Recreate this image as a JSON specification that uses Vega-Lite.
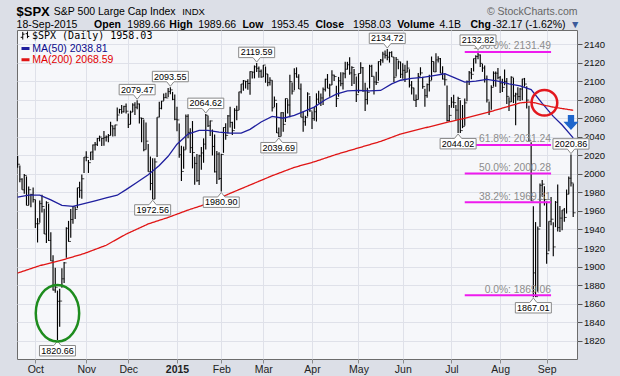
{
  "$schema": "https://vega.github.io/schema/vega-lite/v6.json",
  "width": 560,
  "height": 329,
  "autosize": {"type": "none"},
  "padding": {"left": 17, "top": 30, "right": 43, "bottom": 17},
  "background": "#dcdfe7",
  "config": {
    "view": {"fill": "#f6f7fa", "stroke": "#6c6c6c", "strokeWidth": 1},
    "font": "Liberation Sans",
    "axis": {"labelFont": "Liberation Sans", "titleFont": "Liberation Sans"}
  },
  "resolve": {"axis": {"x": "independent", "y": "independent"}},
  "datasets": {
    "px": [
      {"d":"2014-09-19","h":2019.3,"l":2006.6,"c":2010.4},
      {"d":"2014-09-22","h":2009.1,"l":1991.0,"c":1994.3},
      {"d":"2014-09-23","h":1995.4,"l":1982.8,"c":1982.8},
      {"d":"2014-09-24","h":1999.8,"l":1978.6,"c":1998.3},
      {"d":"2014-09-25","h":1997.3,"l":1966.0,"c":1966.0},
      {"d":"2014-09-26","h":1986.4,"l":1966.2,"c":1982.9},
      {"d":"2014-09-29","h":1978.6,"l":1964.0,"c":1977.8},
      {"d":"2014-09-30","h":1985.2,"l":1969.0,"c":1972.3},
      {"d":"2014-10-01","h":1972.0,"l":1941.7,"c":1946.2},
      {"d":"2014-10-02","h":1952.3,"l":1926.0,"c":1946.2},
      {"d":"2014-10-03","h":1971.2,"l":1947.2,"c":1967.9},
      {"d":"2014-10-06","h":1977.4,"l":1958.4,"c":1964.8},
      {"d":"2014-10-07","h":1962.4,"l":1935.1,"c":1935.1},
      {"d":"2014-10-08","h":1970.4,"l":1925.3,"c":1968.9},
      {"d":"2014-10-09","h":1967.7,"l":1927.6,"c":1928.2},
      {"d":"2014-10-10","h":1937.0,"l":1906.1,"c":1906.1},
      {"d":"2014-10-13","h":1912.1,"l":1874.1,"c":1874.7},
      {"d":"2014-10-14","h":1898.7,"l":1871.8,"c":1877.7},
      {"d":"2014-10-15","h":1874.1,"l":1820.66,"c":1862.5},
      {"d":"2014-10-16","h":1876.0,"l":1835.0,"c":1862.8},
      {"d":"2014-10-17","h":1898.1,"l":1877.1,"c":1886.8},
      {"d":"2014-10-20","h":1905.0,"l":1882.3,"c":1904.0},
      {"d":"2014-10-21","h":1942.5,"l":1909.4,"c":1941.3},
      {"d":"2014-10-22","h":1949.3,"l":1926.8,"c":1927.1},
      {"d":"2014-10-23","h":1962.0,"l":1931.1,"c":1950.8},
      {"d":"2014-10-24","h":1965.3,"l":1946.3,"c":1964.6},
      {"d":"2014-10-27","h":1964.6,"l":1951.4,"c":1961.6},
      {"d":"2014-10-28","h":1985.1,"l":1962.9,"c":1985.1},
      {"d":"2014-10-29","h":1991.4,"l":1974.3,"c":1982.3},
      {"d":"2014-10-30","h":1999.4,"l":1973.3,"c":1994.7},
      {"d":"2014-10-31","h":2018.2,"l":2001.0,"c":2018.1},
      {"d":"2014-11-03","h":2024.5,"l":2013.7,"c":2017.8},
      {"d":"2014-11-04","h":2015.0,"l":2001.0,"c":2012.1},
      {"d":"2014-11-05","h":2023.8,"l":2014.8,"c":2023.6},
      {"d":"2014-11-06","h":2031.6,"l":2015.1,"c":2031.2},
      {"d":"2014-11-07","h":2034.3,"l":2025.1,"c":2031.9},
      {"d":"2014-11-10","h":2038.7,"l":2030.2,"c":2038.3},
      {"d":"2014-11-11","h":2041.3,"l":2035.0,"c":2039.7},
      {"d":"2014-11-12","h":2038.8,"l":2030.2,"c":2038.3},
      {"d":"2014-11-13","h":2046.2,"l":2030.4,"c":2039.3},
      {"d":"2014-11-14","h":2041.4,"l":2035.0,"c":2039.8},
      {"d":"2014-11-17","h":2043.1,"l":2034.0,"c":2041.3},
      {"d":"2014-11-18","h":2056.1,"l":2041.3,"c":2051.8},
      {"d":"2014-11-19","h":2052.1,"l":2040.4,"c":2048.7},
      {"d":"2014-11-20","h":2053.0,"l":2040.5,"c":2052.8},
      {"d":"2014-11-21","h":2071.5,"l":2056.8,"c":2063.5},
      {"d":"2014-11-24","h":2070.2,"l":2065.1,"c":2069.4},
      {"d":"2014-11-25","h":2074.2,"l":2064.8,"c":2067.0},
      {"d":"2014-11-26","h":2073.4,"l":2066.3,"c":2072.8},
      {"d":"2014-11-28","h":2075.8,"l":2065.1,"c":2067.6},
      {"d":"2014-12-01","h":2065.1,"l":2049.6,"c":2053.4},
      {"d":"2014-12-02","h":2068.2,"l":2053.4,"c":2066.6},
      {"d":"2014-12-03","h":2076.3,"l":2066.7,"c":2074.3},
      {"d":"2014-12-04","h":2077.3,"l":2063.5,"c":2071.9},
      {"d":"2014-12-05","h":2079.47,"l":2069.8,"c":2075.4},
      {"d":"2014-12-08","h":2075.8,"l":2054.3,"c":2060.3},
      {"d":"2014-12-09","h":2060.6,"l":2034.2,"c":2059.8},
      {"d":"2014-12-10","h":2058.6,"l":2024.3,"c":2026.1},
      {"d":"2014-12-11","h":2055.5,"l":2026.4,"c":2035.3},
      {"d":"2014-12-12","h":2032.2,"l":2002.3,"c":2002.3},
      {"d":"2014-12-15","h":2018.7,"l":1982.3,"c":1989.6},
      {"d":"2014-12-16","h":2016.9,"l":1972.56,"c":1972.7},
      {"d":"2014-12-17","h":2016.8,"l":1973.0,"c":2012.9},
      {"d":"2014-12-18","h":2061.2,"l":2018.1,"c":2061.2},
      {"d":"2014-12-19","h":2077.9,"l":2061.0,"c":2070.7},
      {"d":"2014-12-22","h":2078.8,"l":2069.6,"c":2078.5},
      {"d":"2014-12-23","h":2086.7,"l":2079.0,"c":2082.2},
      {"d":"2014-12-24","h":2087.6,"l":2081.9,"c":2081.9},
      {"d":"2014-12-26","h":2092.7,"l":2083.0,"c":2088.8},
      {"d":"2014-12-29","h":2093.55,"l":2085.8,"c":2090.6},
      {"d":"2014-12-30","h":2088.5,"l":2079.5,"c":2080.4},
      {"d":"2014-12-31","h":2085.6,"l":2057.9,"c":2058.9},
      {"d":"2015-01-02","h":2072.4,"l":2046.0,"c":2058.2},
      {"d":"2015-01-05","h":2054.4,"l":2017.3,"c":2020.6},
      {"d":"2015-01-06","h":2030.3,"l":1992.4,"c":2002.6},
      {"d":"2015-01-07","h":2029.6,"l":2005.6,"c":2025.9},
      {"d":"2015-01-08","h":2064.1,"l":2026.4,"c":2062.1},
      {"d":"2015-01-09","h":2064.4,"l":2038.3,"c":2044.8},
      {"d":"2015-01-12","h":2049.3,"l":2022.6,"c":2028.3},
      {"d":"2015-01-13","h":2057.0,"l":2005.9,"c":2023.0},
      {"d":"2015-01-14","h":2018.4,"l":1988.4,"c":2011.3},
      {"d":"2015-01-15","h":2021.4,"l":1991.5,"c":1992.7},
      {"d":"2015-01-16","h":2020.5,"l":1988.1,"c":2019.4},
      {"d":"2015-01-20","h":2028.9,"l":2004.5,"c":2022.6},
      {"d":"2015-01-21","h":2038.3,"l":2012.0,"c":2032.1},
      {"d":"2015-01-22","h":2064.62,"l":2026.4,"c":2063.2},
      {"d":"2015-01-23","h":2062.6,"l":2050.5,"c":2051.8},
      {"d":"2015-01-26","h":2057.6,"l":2040.9,"c":2057.1},
      {"d":"2015-01-27","h":2047.9,"l":2019.9,"c":2029.6},
      {"d":"2015-01-28","h":2042.5,"l":2001.5,"c":2002.2},
      {"d":"2015-01-29","h":2024.6,"l":1989.2,"c":2021.3},
      {"d":"2015-01-30","h":2023.3,"l":1993.4,"c":1995.0},
      {"d":"2015-02-02","h":2021.7,"l":1980.9,"c":2020.9},
      {"d":"2015-02-03","h":2050.3,"l":2022.7,"c":2050.0},
      {"d":"2015-02-04","h":2054.7,"l":2036.7,"c":2041.5},
      {"d":"2015-02-05","h":2063.6,"l":2043.5,"c":2062.5},
      {"d":"2015-02-06","h":2072.4,"l":2049.9,"c":2055.5},
      {"d":"2015-02-09","h":2056.2,"l":2041.9,"c":2046.7},
      {"d":"2015-02-10","h":2070.9,"l":2048.6,"c":2068.6},
      {"d":"2015-02-11","h":2073.5,"l":2057.9,"c":2068.5},
      {"d":"2015-02-12","h":2088.5,"l":2069.0,"c":2088.5},
      {"d":"2015-02-13","h":2097.0,"l":2086.7,"c":2097.0},
      {"d":"2015-02-17","h":2101.3,"l":2089.8,"c":2100.3},
      {"d":"2015-02-18","h":2100.2,"l":2092.2,"c":2099.7},
      {"d":"2015-02-19","h":2102.1,"l":2090.8,"c":2097.5},
      {"d":"2015-02-20","h":2110.6,"l":2085.4,"c":2110.3},
      {"d":"2015-02-23","h":2110.1,"l":2103.0,"c":2109.7},
      {"d":"2015-02-24","h":2117.0,"l":2103.0,"c":2115.5},
      {"d":"2015-02-25","h":2119.59,"l":2109.9,"c":2113.9},
      {"d":"2015-02-26","h":2115.8,"l":2103.8,"c":2110.7},
      {"d":"2015-02-27","h":2112.7,"l":2103.8,"c":2104.5},
      {"d":"2015-03-02","h":2117.5,"l":2104.5,"c":2117.4},
      {"d":"2015-03-03","h":2115.8,"l":2098.3,"c":2107.8},
      {"d":"2015-03-04","h":2107.7,"l":2094.5,"c":2098.5},
      {"d":"2015-03-05","h":2104.3,"l":2095.2,"c":2101.0},
      {"d":"2015-03-06","h":2100.9,"l":2067.3,"c":2071.3},
      {"d":"2015-03-09","h":2083.5,"l":2072.2,"c":2079.4},
      {"d":"2015-03-10","h":2076.5,"l":2044.2,"c":2044.2},
      {"d":"2015-03-11","h":2050.1,"l":2039.69,"c":2040.2},
      {"d":"2015-03-12","h":2066.4,"l":2040.6,"c":2066.0},
      {"d":"2015-03-13","h":2066.6,"l":2045.5,"c":2053.4},
      {"d":"2015-03-16","h":2081.4,"l":2055.9,"c":2081.2},
      {"d":"2015-03-17","h":2080.6,"l":2065.1,"c":2074.3},
      {"d":"2015-03-18","h":2106.9,"l":2061.2,"c":2099.5},
      {"d":"2015-03-19","h":2098.7,"l":2085.6,"c":2089.3},
      {"d":"2015-03-20","h":2113.9,"l":2090.3,"c":2108.1},
      {"d":"2015-03-23","h":2114.9,"l":2103.8,"c":2104.4},
      {"d":"2015-03-24","h":2107.6,"l":2091.5,"c":2091.5},
      {"d":"2015-03-25","h":2097.4,"l":2061.1,"c":2061.1},
      {"d":"2015-03-26","h":2067.2,"l":2045.5,"c":2056.2},
      {"d":"2015-03-27","h":2062.8,"l":2052.0,"c":2061.0},
      {"d":"2015-03-30","h":2088.0,"l":2062.0,"c":2086.2},
      {"d":"2015-03-31","h":2084.1,"l":2067.0,"c":2067.9},
      {"d":"2015-04-01","h":2067.2,"l":2048.4,"c":2059.7},
      {"d":"2015-04-02","h":2072.2,"l":2057.3,"c":2067.0},
      {"d":"2015-04-06","h":2086.9,"l":2056.5,"c":2080.6},
      {"d":"2015-04-07","h":2089.8,"l":2076.1,"c":2076.3},
      {"d":"2015-04-08","h":2086.7,"l":2073.3,"c":2081.9},
      {"d":"2015-04-09","h":2093.3,"l":2074.3,"c":2091.2},
      {"d":"2015-04-10","h":2102.6,"l":2088.9,"c":2102.1},
      {"d":"2015-04-13","h":2107.7,"l":2092.3,"c":2092.4},
      {"d":"2015-04-14","h":2097.3,"l":2083.2,"c":2095.8},
      {"d":"2015-04-15","h":2111.9,"l":2096.0,"c":2106.6},
      {"d":"2015-04-16","h":2107.0,"l":2100.1,"c":2105.0},
      {"d":"2015-04-17","h":2095.1,"l":2072.1,"c":2081.2},
      {"d":"2015-04-20","h":2104.6,"l":2083.2,"c":2100.4},
      {"d":"2015-04-21","h":2109.6,"l":2094.4,"c":2097.3},
      {"d":"2015-04-22","h":2109.6,"l":2091.1,"c":2108.0},
      {"d":"2015-04-23","h":2120.9,"l":2103.2,"c":2112.9},
      {"d":"2015-04-24","h":2120.9,"l":2112.6,"c":2117.7},
      {"d":"2015-04-27","h":2125.9,"l":2107.0,"c":2108.9},
      {"d":"2015-04-28","h":2116.0,"l":2094.9,"c":2114.8},
      {"d":"2015-04-29","h":2113.2,"l":2097.0,"c":2106.9},
      {"d":"2015-04-30","h":2105.0,"l":2077.6,"c":2085.5},
      {"d":"2015-05-01","h":2108.4,"l":2087.3,"c":2108.3},
      {"d":"2015-05-04","h":2120.5,"l":2108.4,"c":2114.5},
      {"d":"2015-05-05","h":2115.2,"l":2088.5,"c":2089.5},
      {"d":"2015-05-06","h":2098.3,"l":2067.9,"c":2080.2},
      {"d":"2015-05-07","h":2092.9,"l":2074.9,"c":2088.0},
      {"d":"2015-05-08","h":2117.7,"l":2092.1,"c":2116.1},
      {"d":"2015-05-11","h":2117.7,"l":2104.6,"c":2105.3},
      {"d":"2015-05-12","h":2105.1,"l":2085.6,"c":2099.1},
      {"d":"2015-05-13","h":2110.2,"l":2096.0,"c":2098.5},
      {"d":"2015-05-14","h":2121.5,"l":2100.4,"c":2121.1},
      {"d":"2015-05-15","h":2123.9,"l":2116.8,"c":2122.7},
      {"d":"2015-05-18","h":2131.8,"l":2120.0,"c":2129.2},
      {"d":"2015-05-19","h":2133.0,"l":2124.5,"c":2127.8},
      {"d":"2015-05-20","h":2134.72,"l":2122.6,"c":2125.9},
      {"d":"2015-05-21","h":2131.8,"l":2120.0,"c":2130.8},
      {"d":"2015-05-22","h":2132.2,"l":2126.1,"c":2126.1},
      {"d":"2015-05-26","h":2126.2,"l":2099.2,"c":2104.2},
      {"d":"2015-05-27","h":2126.2,"l":2105.1,"c":2123.5},
      {"d":"2015-05-28","h":2122.3,"l":2112.8,"c":2120.8},
      {"d":"2015-05-29","h":2121.0,"l":2103.4,"c":2107.4},
      {"d":"2015-06-01","h":2119.2,"l":2102.5,"c":2111.7},
      {"d":"2015-06-02","h":2117.6,"l":2099.1,"c":2109.6},
      {"d":"2015-06-03","h":2121.9,"l":2109.6,"c":2114.1},
      {"d":"2015-06-04","h":2112.9,"l":2093.2,"c":2095.8},
      {"d":"2015-06-05","h":2100.3,"l":2085.7,"c":2092.8},
      {"d":"2015-06-08","h":2093.0,"l":2079.1,"c":2079.3},
      {"d":"2015-06-09","h":2085.7,"l":2072.1,"c":2080.2},
      {"d":"2015-06-10","h":2108.8,"l":2080.2,"c":2105.2},
      {"d":"2015-06-11","h":2115.0,"l":2106.1,"c":2108.9},
      {"d":"2015-06-12","h":2104.9,"l":2091.9,"c":2094.1},
      {"d":"2015-06-15","h":2091.9,"l":2072.5,"c":2084.4},
      {"d":"2015-06-16","h":2097.4,"l":2082.1,"c":2096.3},
      {"d":"2015-06-17","h":2106.8,"l":2088.9,"c":2100.4},
      {"d":"2015-06-18","h":2126.6,"l":2101.0,"c":2121.2},
      {"d":"2015-06-19","h":2121.3,"l":2109.8,"c":2110.0},
      {"d":"2015-06-22","h":2130.0,"l":2110.0,"c":2122.9},
      {"d":"2015-06-23","h":2127.0,"l":2120.1,"c":2124.2},
      {"d":"2015-06-24","h":2125.1,"l":2108.6,"c":2108.6},
      {"d":"2015-06-25","h":2116.0,"l":2101.8,"c":2102.3},
      {"d":"2015-06-26","h":2108.6,"l":2095.4,"c":2101.5},
      {"d":"2015-06-29","h":2095.2,"l":2056.6,"c":2057.6},
      {"d":"2015-06-30","h":2074.3,"l":2056.3,"c":2063.1},
      {"d":"2015-07-01","h":2082.8,"l":2071.3,"c":2077.4},
      {"d":"2015-07-02","h":2085.4,"l":2071.0,"c":2076.8},
      {"d":"2015-07-06","h":2074.2,"l":2058.4,"c":2068.8},
      {"d":"2015-07-07","h":2083.3,"l":2044.02,"c":2081.3},
      {"d":"2015-07-08","h":2079.5,"l":2044.2,"c":2046.7},
      {"d":"2015-07-09","h":2074.3,"l":2049.3,"c":2051.3},
      {"d":"2015-07-10","h":2081.3,"l":2052.0,"c":2076.6},
      {"d":"2015-07-13","h":2100.7,"l":2078.3,"c":2099.6},
      {"d":"2015-07-14","h":2111.0,"l":2095.9,"c":2109.0},
      {"d":"2015-07-15","h":2114.2,"l":2102.1,"c":2107.4},
      {"d":"2015-07-16","h":2124.4,"l":2110.3,"c":2124.3},
      {"d":"2015-07-17","h":2128.0,"l":2119.1,"c":2126.6},
      {"d":"2015-07-20","h":2132.82,"l":2123.7,"c":2128.3},
      {"d":"2015-07-21","h":2128.9,"l":2115.4,"c":2119.2},
      {"d":"2015-07-22","h":2118.5,"l":2110.0,"c":2114.2},
      {"d":"2015-07-23","h":2116.9,"l":2098.6,"c":2102.2},
      {"d":"2015-07-24","h":2106.0,"l":2077.1,"c":2079.7},
      {"d":"2015-07-27","h":2078.0,"l":2063.5,"c":2067.6},
      {"d":"2015-07-28","h":2095.6,"l":2069.1,"c":2093.3},
      {"d":"2015-07-29","h":2110.6,"l":2094.1,"c":2108.6},
      {"d":"2015-07-30","h":2110.5,"l":2094.1,"c":2108.6},
      {"d":"2015-07-31","h":2114.2,"l":2102.1,"c":2103.8},
      {"d":"2015-08-03","h":2105.7,"l":2087.3,"c":2098.0},
      {"d":"2015-08-04","h":2102.5,"l":2088.3,"c":2093.3},
      {"d":"2015-08-05","h":2112.7,"l":2095.5,"c":2099.8},
      {"d":"2015-08-06","h":2103.3,"l":2075.5,"c":2083.6},
      {"d":"2015-08-07","h":2082.6,"l":2067.9,"c":2077.6},
      {"d":"2015-08-10","h":2105.4,"l":2077.6,"c":2104.2},
      {"d":"2015-08-11","h":2103.5,"l":2076.4,"c":2084.1},
      {"d":"2015-08-12","h":2087.6,"l":2052.4,"c":2086.1},
      {"d":"2015-08-13","h":2093.4,"l":2079.1,"c":2083.4},
      {"d":"2015-08-14","h":2092.5,"l":2078.5,"c":2091.5},
      {"d":"2015-08-17","h":2102.7,"l":2079.3,"c":2102.4},
      {"d":"2015-08-18","h":2103.5,"l":2094.1,"c":2096.9},
      {"d":"2015-08-19","h":2094.4,"l":2070.5,"c":2079.6},
      {"d":"2015-08-20","h":2073.5,"l":2034.9,"c":2035.7},
      {"d":"2015-08-21","h":2034.1,"l":1970.9,"c":1970.9},
      {"d":"2015-08-24","h":1965.2,"l":1867.01,"c":1893.2},
      {"d":"2015-08-25","h":1948.0,"l":1867.1,"c":1867.6},
      {"d":"2015-08-26","h":1943.1,"l":1872.8,"c":1940.5},
      {"d":"2015-08-27","h":1989.6,"l":1942.8,"c":1987.7},
      {"d":"2015-08-28","h":1993.5,"l":1975.2,"c":1988.9},
      {"d":"2015-08-31","h":1986.7,"l":1966.0,"c":1972.2},
      {"d":"2015-09-01","h":1970.1,"l":1903.1,"c":1913.9},
      {"d":"2015-09-02","h":1948.9,"l":1916.5,"c":1948.9},
      {"d":"2015-09-03","h":1975.0,"l":1944.7,"c":1951.1},
      {"d":"2015-09-04","h":1947.8,"l":1911.2,"c":1921.2},
      {"d":"2015-09-08","h":1970.7,"l":1942.5,"c":1969.4},
      {"d":"2015-09-09","h":1988.6,"l":1937.9,"c":1942.0},
      {"d":"2015-09-10","h":1965.3,"l":1937.2,"c":1952.3},
      {"d":"2015-09-11","h":1961.1,"l":1939.2,"c":1961.1},
      {"d":"2015-09-14","h":1963.1,"l":1948.3,"c":1953.0},
      {"d":"2015-09-15","h":1983.1,"l":1957.2,"c":1978.1},
      {"d":"2015-09-16","h":1997.3,"l":1977.9,"c":1995.3},
      {"d":"2015-09-17","h":2020.86,"l":1986.3,"c":1990.2},
      {"d":"2015-09-18","h":1989.66,"l":1953.45,"c":1958.03}
    ],
    "ma": [
      {"s":"MA(50) 2038.81","d":"2014-09-19","v":1975},
      {"s":"MA(50) 2038.81","d":"2014-09-26","v":1977},
      {"s":"MA(50) 2038.81","d":"2014-10-03","v":1977},
      {"s":"MA(50) 2038.81","d":"2014-10-10","v":1972},
      {"s":"MA(50) 2038.81","d":"2014-10-17","v":1966},
      {"s":"MA(50) 2038.81","d":"2014-10-24","v":1965},
      {"s":"MA(50) 2038.81","d":"2014-10-31","v":1968},
      {"s":"MA(50) 2038.81","d":"2014-11-07","v":1971},
      {"s":"MA(50) 2038.81","d":"2014-11-14","v":1974},
      {"s":"MA(50) 2038.81","d":"2014-11-21","v":1977},
      {"s":"MA(50) 2038.81","d":"2014-11-28","v":1983},
      {"s":"MA(50) 2038.81","d":"2014-12-05","v":1991},
      {"s":"MA(50) 2038.81","d":"2014-12-12","v":1999},
      {"s":"MA(50) 2038.81","d":"2014-12-19","v":2009},
      {"s":"MA(50) 2038.81","d":"2014-12-26","v":2019},
      {"s":"MA(50) 2038.81","d":"2015-01-02","v":2032},
      {"s":"MA(50) 2038.81","d":"2015-01-09","v":2043},
      {"s":"MA(50) 2038.81","d":"2015-01-16","v":2047},
      {"s":"MA(50) 2038.81","d":"2015-01-23","v":2047},
      {"s":"MA(50) 2038.81","d":"2015-01-30","v":2045},
      {"s":"MA(50) 2038.81","d":"2015-02-06","v":2044},
      {"s":"MA(50) 2038.81","d":"2015-02-13","v":2044},
      {"s":"MA(50) 2038.81","d":"2015-02-20","v":2048},
      {"s":"MA(50) 2038.81","d":"2015-02-27","v":2056},
      {"s":"MA(50) 2038.81","d":"2015-03-06","v":2062},
      {"s":"MA(50) 2038.81","d":"2015-03-13","v":2060},
      {"s":"MA(50) 2038.81","d":"2015-03-20","v":2063},
      {"s":"MA(50) 2038.81","d":"2015-03-27","v":2068},
      {"s":"MA(50) 2038.81","d":"2015-04-02","v":2072},
      {"s":"MA(50) 2038.81","d":"2015-04-10","v":2080},
      {"s":"MA(50) 2038.81","d":"2015-04-17","v":2086},
      {"s":"MA(50) 2038.81","d":"2015-04-24","v":2089.5},
      {"s":"MA(50) 2038.81","d":"2015-05-01","v":2090},
      {"s":"MA(50) 2038.81","d":"2015-05-08","v":2089.5},
      {"s":"MA(50) 2038.81","d":"2015-05-15","v":2090},
      {"s":"MA(50) 2038.81","d":"2015-05-22","v":2097},
      {"s":"MA(50) 2038.81","d":"2015-05-29","v":2101},
      {"s":"MA(50) 2038.81","d":"2015-06-05","v":2103},
      {"s":"MA(50) 2038.81","d":"2015-06-12","v":2104},
      {"s":"MA(50) 2038.81","d":"2015-06-19","v":2106},
      {"s":"MA(50) 2038.81","d":"2015-06-26","v":2108},
      {"s":"MA(50) 2038.81","d":"2015-07-02","v":2104},
      {"s":"MA(50) 2038.81","d":"2015-07-10","v":2099},
      {"s":"MA(50) 2038.81","d":"2015-07-17","v":2100},
      {"s":"MA(50) 2038.81","d":"2015-07-24","v":2102},
      {"s":"MA(50) 2038.81","d":"2015-07-31","v":2100},
      {"s":"MA(50) 2038.81","d":"2015-08-07","v":2097},
      {"s":"MA(50) 2038.81","d":"2015-08-14","v":2095},
      {"s":"MA(50) 2038.81","d":"2015-08-21","v":2091},
      {"s":"MA(50) 2038.81","d":"2015-08-28","v":2076},
      {"s":"MA(50) 2038.81","d":"2015-09-04","v":2062},
      {"s":"MA(50) 2038.81","d":"2015-09-11","v":2052.7},
      {"s":"MA(50) 2038.81","d":"2015-09-18","v":2038.81},
      {"s":"MA(200) 2068.59","d":"2014-09-19","v":1893},
      {"s":"MA(200) 2068.59","d":"2014-10-03","v":1901},
      {"s":"MA(200) 2068.59","d":"2014-10-17","v":1907},
      {"s":"MA(200) 2068.59","d":"2014-10-31","v":1914},
      {"s":"MA(200) 2068.59","d":"2014-11-14","v":1923},
      {"s":"MA(200) 2068.59","d":"2014-11-28","v":1935},
      {"s":"MA(200) 2068.59","d":"2014-12-12","v":1946},
      {"s":"MA(200) 2068.59","d":"2014-12-26","v":1953},
      {"s":"MA(200) 2068.59","d":"2015-01-09","v":1961},
      {"s":"MA(200) 2068.59","d":"2015-01-23","v":1968},
      {"s":"MA(200) 2068.59","d":"2015-02-06","v":1979},
      {"s":"MA(200) 2068.59","d":"2015-02-20","v":1988},
      {"s":"MA(200) 2068.59","d":"2015-03-06","v":1998},
      {"s":"MA(200) 2068.59","d":"2015-03-20","v":2007},
      {"s":"MA(200) 2068.59","d":"2015-04-02","v":2013},
      {"s":"MA(200) 2068.59","d":"2015-04-17","v":2021},
      {"s":"MA(200) 2068.59","d":"2015-05-01","v":2028},
      {"s":"MA(200) 2068.59","d":"2015-05-15","v":2035},
      {"s":"MA(200) 2068.59","d":"2015-05-29","v":2043},
      {"s":"MA(200) 2068.59","d":"2015-06-12","v":2049},
      {"s":"MA(200) 2068.59","d":"2015-06-26","v":2055},
      {"s":"MA(200) 2068.59","d":"2015-07-10","v":2060},
      {"s":"MA(200) 2068.59","d":"2015-07-24","v":2066},
      {"s":"MA(200) 2068.59","d":"2015-08-07","v":2073},
      {"s":"MA(200) 2068.59","d":"2015-08-14","v":2076.5},
      {"s":"MA(200) 2068.59","d":"2015-08-20","v":2077.5},
      {"s":"MA(200) 2068.59","d":"2015-08-25","v":2076.5},
      {"s":"MA(200) 2068.59","d":"2015-08-28","v":2074.5},
      {"s":"MA(200) 2068.59","d":"2015-09-04","v":2072},
      {"s":"MA(200) 2068.59","d":"2015-09-11","v":2070.5},
      {"s":"MA(200) 2068.59","d":"2015-09-18","v":2068.59}
    ],
    "lab": [
      {"d":"2014-12-05","v":2079.47,"k":"high"},
      {"d":"2014-12-29","v":2093.55,"k":"high"},
      {"d":"2015-01-22","v":2064.62,"k":"high"},
      {"d":"2015-02-25","v":2119.59,"k":"high"},
      {"d":"2015-05-20","v":2134.72,"k":"high"},
      {"d":"2015-07-20","v":2132.82,"k":"high"},
      {"d":"2015-09-17","v":2020.86,"k":"high"},
      {"d":"2014-10-15","v":1820.66,"k":"low"},
      {"d":"2014-12-16","v":1972.56,"k":"low"},
      {"d":"2015-02-02","v":1980.90,"k":"low"},
      {"d":"2015-03-11","v":2039.69,"k":"low"},
      {"d":"2015-07-07","v":2044.02,"k":"low"},
      {"d":"2015-08-24","v":1867.01,"k":"low"}
    ],
    "fib": [
      {"d":"2015-07-10","d2":"2015-09-03","v":2131.49,"t":"100.0%: 2131.49"},
      {"d":"2015-07-10","d2":"2015-09-03","v":2031.24,"t":"61.8%: 2031.24"},
      {"d":"2015-07-10","d2":"2015-09-03","v":2000.28,"t":"50.0%: 2000.28"},
      {"d":"2015-07-10","d2":"2015-09-03","v":1969.31,"t":"38.2%: 1969.31"},
      {"d":"2015-07-10","d2":"2015-09-03","v":1869.06,"t":"0.0%: 1869.06"}
    ],
    "ann": [
      {"k":"circle","d":"2015-08-31","v":2076.7},
      {"k":"ellipse","d":"2014-10-15","v":1849.6},
      {"k":"arrow","d":"2015-09-17","v":2055.4}
    ]
  },
  "layer": [
    {
      "data": {"name": "px"},
      "mark": {"type": "rule", "strokeWidth": 1.15},
      "encoding": {
        "x": {
          "field": "d", "type": "ordinal",
          "scale": {"type": "point", "padding": 1.773, "align": 0.141},
          "axis": {
            "orient": "bottom",
            "values": ["2014-10-01","2014-11-03","2014-12-01","2015-01-02","2015-02-02","2015-03-02","2015-04-01","2015-05-01","2015-06-01","2015-07-01","2015-08-03","2015-09-01"],
            "labelExpr": "['','2015','Feb','Mar','Apr','May','Jun','Jul','Aug','Sep','Oct','Nov','Dec'][toNumber(slice(datum.value,5,7))]",
            "labelFontWeight": {"condition": {"test": "datum.value == '2015-01-02'", "value": "bold"}, "value": "normal"},
            "labelAngle": 0,
            "labelFontSize": 10.5,
            "labelColor": "#222222",
            "labelPadding": 1,
            "labelOverlap": false,
            "domain": false,
            "ticks": true, "tickSize": 4, "tickColor": "#8a8a8a",
            "grid": true, "gridColor": "#dfe1e9", "gridWidth": 1,
            "title": "S&P 500 Large Cap Index",
            "titleX": 36.3, "titleY": -344.5,
            "titleAlign": "left", "titleBaseline": "alphabetic",
            "titleFontSize": 10.5, "titleFontWeight": "normal", "titleColor": "#000000"
          }
        },
        "y": {
          "field": "l", "type": "quantitative",
          "scale": {"domain": [1800.3, 2155.2], "nice": false, "zero": false},
          "axis": {
            "orient": "right",
            "values": [1820,1840,1860,1880,1900,1920,1940,1960,1980,2000,2020,2040,2060,2080,2100,2120,2140],
            "format": "d",
            "labelFontSize": 9.5,
            "labelColor": "#111111",
            "labelPadding": 1.5,
            "domain": false,
            "ticks": true, "tickSize": 5, "tickColor": "#555555",
            "grid": true, "gridColor": "#dfe1e9", "gridWidth": 1,
            "title": "© StockCharts.com",
            "titleAngle": 0, "titleX": 0, "titleY": -16,
            "titleAlign": "right", "titleBaseline": "alphabetic",
            "titleFontSize": 10.5, "titleFontWeight": "normal", "titleColor": "#666666"
          }
        },
        "y2": {"field": "h"},
        "stroke": {
          "datum": "$SPX (Daily) 1958.03", "type": "nominal",
          "scale": {"domain": ["$SPX (Daily) 1958.03"], "range": ["#000000"]},
          "legend": {
            "title": null,
            "orient": "none",
            "legendX": 3,
            "legendY": 0.5,
            "padding": 0,
            "symbolType": "M-0.5,-0.8L-0.5,0.9M-0.95,0.4L-0.5,0.4M-0.5,-0.3L-0.1,-0.3M0.55,-0.9L0.55,0.6M0.15,-0.4L0.55,-0.4M0.55,0.2L0.95,0.2",
            "symbolSize": 81,
            "symbolStrokeWidth": 1,
            "symbolFillColor": "transparent",
            "symbolStrokeColor": "#000000",
            "labelFont": "DejaVu Sans Mono",
            "labelFontSize": 10,
            "labelColor": "#000000",
            "labelOffset": 2
          }
        }
      }
    },
    {
      "data": {"name": "px"},
      "mark": {"type": "tick", "orient": "horizontal", "size": 2.5, "thickness": 1, "xOffset": 1.2, "color": "#000000"},
      "encoding": {
        "x": {"field": "d", "type": "ordinal", "axis": null},
        "y": {"field": "c", "type": "quantitative", "axis": null}
      }
    },
    {
      "data": {"name": "ma"},
      "transform": [{"filter": "datum.s == 'MA(50) 2038.81'"}],
      "mark": {"type": "line", "strokeWidth": 1.3},
      "encoding": {
        "x": {"field": "d", "type": "ordinal", "axis": null},
        "y": {"field": "v", "type": "quantitative", "axis": null},
        "color": {
          "datum": "MA(50) 2038.81", "type": "nominal",
          "scale": {"domain": ["MA(50) 2038.81"], "range": ["#1f1f9e"]},
          "legend": {
            "title": null,
            "orient": "none",
            "legendX": 3,
            "legendY": 13,
            "padding": 0,
            "symbolType": "stroke",
            "symbolSize": 64,
            "symbolStrokeWidth": 3,
            "labelFont": "Liberation Sans",
            "labelFontSize": 10.5,
            "labelColor": "#0b0b8c",
            "labelOffset": 1.3
          }
        }
      }
    },
    {
      "data": {"name": "ma"},
      "transform": [{"filter": "datum.s == 'MA(200) 2068.59'"}],
      "mark": {"type": "line", "strokeWidth": 1.3, "color": "#e01414"},
      "encoding": {
        "x": {"field": "d", "type": "ordinal", "axis": null},
        "y": {"field": "v", "type": "quantitative", "axis": null},
        "strokeDash": {
          "datum": "MA(200) 2068.59", "type": "nominal",
          "scale": {"domain": ["MA(200) 2068.59"], "range": [[1, 0]]},
          "legend": {
            "title": null,
            "orient": "none",
            "legendX": 3,
            "legendY": 24.3,
            "padding": 0,
            "symbolType": "stroke",
            "symbolSize": 64,
            "symbolStrokeWidth": 3,
            "symbolStrokeColor": "#e01414",
            "labelFont": "Liberation Sans",
            "labelFontSize": 10.5,
            "labelColor": "#e00000",
            "labelOffset": 1.3
          }
        }
      }
    },
    {
      "data": {"name": "fib"},
      "mark": {"type": "rule", "color": "#ee1bee", "strokeWidth": 2},
      "encoding": {
        "x": {"field": "d", "type": "ordinal", "axis": null},
        "x2": {"field": "d2"},
        "y": {"field": "v", "type": "quantitative", "axis": null}
      }
    },
    {
      "data": {"name": "fib"},
      "mark": {"type": "text", "align": "right", "baseline": "alphabetic", "dy": -2.5, "fontSize": 10.3, "color": "#8c8c8c", "font": "Liberation Sans"},
      "encoding": {
        "x": {"field": "d2", "type": "ordinal", "axis": null},
        "y": {"field": "v", "type": "quantitative", "axis": null},
        "text": {"field": "t"}
      }
    },
    {
      "data": {"name": "lab"},
      "transform": [{"filter": "datum.k == 'high'"}],
      "mark": {"type": "point", "shape": "M0,-0.05L0.2,-0.3L1,-0.3L1,-0.88L-1,-0.88L-1,-0.3L-0.2,-0.3Z", "size": 1296, "filled": true, "fill": "#ffffff", "stroke": "#8a8a8a", "strokeWidth": 1, "opacity": 1},
      "encoding": {
        "x": {"field": "d", "type": "ordinal", "axis": null},
        "y": {"field": "v", "type": "quantitative", "axis": null}
      }
    },
    {
      "data": {"name": "lab"},
      "transform": [{"filter": "datum.k == 'low'"}],
      "mark": {"type": "point", "shape": "M0,0.05L0.2,0.3L1,0.3L1,0.88L-1,0.88L-1,0.3L-0.2,0.3Z", "size": 1296, "filled": true, "fill": "#ffffff", "stroke": "#8a8a8a", "strokeWidth": 1, "opacity": 1},
      "encoding": {
        "x": {"field": "d", "type": "ordinal", "axis": null},
        "y": {"field": "v", "type": "quantitative", "axis": null}
      }
    },
    {
      "data": {"name": "lab"},
      "transform": [{"filter": "datum.k == 'high'"}],
      "mark": {"type": "text", "baseline": "middle", "align": "center", "dy": -10.6, "fontSize": 9, "color": "#000000", "font": "Liberation Sans"},
      "encoding": {
        "x": {"field": "d", "type": "ordinal", "axis": null},
        "y": {"field": "v", "type": "quantitative", "axis": null},
        "text": {"field": "v", "format": ".2f"}
      }
    },
    {
      "data": {"name": "lab"},
      "transform": [{"filter": "datum.k == 'low'"}],
      "mark": {"type": "text", "baseline": "middle", "align": "center", "dy": 10.6, "fontSize": 9, "color": "#000000", "font": "Liberation Sans"},
      "encoding": {
        "x": {"field": "d", "type": "ordinal", "axis": null},
        "y": {"field": "v", "type": "quantitative", "axis": null},
        "text": {"field": "v", "format": ".2f"}
      }
    },
    {
      "data": {"name": "ann"},
      "transform": [{"filter": "datum.k == 'circle'"}],
      "mark": {"type": "point", "shape": "circle", "size": 660, "filled": false, "stroke": "#e3171e", "strokeWidth": 2.5, "opacity": 1},
      "encoding": {
        "x": {"field": "d", "type": "ordinal", "axis": null},
        "y": {"field": "v", "type": "quantitative", "axis": null}
      }
    },
    {
      "data": {"name": "ann"},
      "transform": [{"filter": "datum.k == 'arrow'"}],
      "mark": {"type": "point", "shape": "M-0.42,-1L0.42,-1L0.42,-0.1L1,-0.1L0,1L-1,-0.1L-0.42,-0.1Z", "size": 225, "filled": true, "fill": "#1f66cc", "strokeWidth": 0, "opacity": 1},
      "encoding": {
        "x": {"field": "d", "type": "ordinal", "axis": null},
        "y": {"field": "v", "type": "quantitative", "axis": null}
      }
    },
    {
      "data": {"name": "ann"},
      "transform": [{"filter": "datum.k == 'ellipse'"}],
      "mark": {"type": "point", "shape": "M0.767,0C0.767,0.552,0.424,1,0,1C-0.424,1,-0.767,0.552,-0.767,0C-0.767,-0.552,-0.424,-1,0,-1C0.424,-1,0.767,-0.552,0.767,0Z", "size": 3204, "filled": false, "stroke": "#1e8c1e", "strokeWidth": 2.5, "opacity": 1},
      "encoding": {
        "x": {
          "field": "d", "type": "ordinal",
          "axis": {
            "orient": "top",
            "values": ["2014-09-19","2014-11-07","2014-12-01","2014-12-29","2015-01-16","2015-02-17","2015-03-06","2015-04-06","2015-04-29","2015-05-28","2015-06-24","2015-07-15","2015-07-29","2015-09-17"],
            "labelExpr": "datum.value=='2014-09-19'?'18-Sep-2015':datum.value=='2014-11-07'?'Open':datum.value=='2014-12-01'?'1989.66':datum.value=='2014-12-29'?'High':datum.value=='2015-01-16'?'1989.66':datum.value=='2015-02-17'?'Low':datum.value=='2015-03-06'?'1953.45':datum.value=='2015-04-06'?'Close':datum.value=='2015-04-29'?'1958.03':datum.value=='2015-05-28'?'Volume':datum.value=='2015-06-24'?'4.1B':datum.value=='2015-07-15'?'Chg':datum.value=='2015-07-29'?'-32.17 (-1.62%)':'▼'",
            "labelFontWeight": {"condition": {"test": "indexof(['2014-11-07','2014-12-29','2015-02-17','2015-04-06','2015-05-28','2015-07-15'], datum.value) >= 0", "value": "bold"}, "value": "normal"},
            "labelFontSize": 10.5,
            "labelColor": {"condition": {"test": "datum.value == '2015-09-17'", "value": "#3b5b9b"}, "value": "#000000"},
            "labelAlign": "left",
            "labelBaseline": "alphabetic",
            "labelAngle": 0,
            "labelOffset": -1.5,
            "labelPadding": 2.5,
            "labelOverlap": false,
            "labelBound": false,
            "labelFlush": false,
            "domain": false,
            "ticks": false,
            "tickSize": 0,
            "grid": false,
            "title": "$SPX",
            "titleX": -1, "titleY": -15,
            "titleAlign": "left", "titleBaseline": "alphabetic",
            "titleFontSize": 13, "titleFontWeight": "bold", "titleColor": "#000000"
          }
        },
        "y": {
          "field": "v", "type": "quantitative",
          "axis": {
            "orient": "left",
            "labels": false, "ticks": false, "domain": false, "grid": false,
            "title": "INDX",
            "titleAngle": 0, "titleX": 164.7, "titleY": -16,
            "titleAlign": "left", "titleBaseline": "alphabetic",
            "titleFontSize": 9.5, "titleFontWeight": "normal", "titleColor": "#000000"
          }
        }
      }
    }
  ]
}
